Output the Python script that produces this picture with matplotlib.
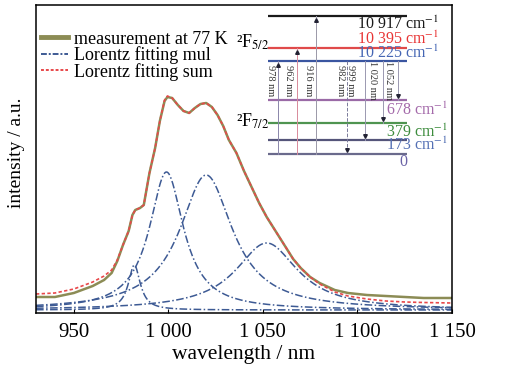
import numpy as np
import matplotlib
matplotlib.use("Agg")
import matplotlib.pyplot as plt
from matplotlib.lines import Line2D

plt.rcParams["font.family"] = ["Liberation Serif", "DejaVu Serif"]
plt.rcParams["mathtext.fontset"] = "stix"

# measured emission spectrum at 77 K (arbitrary units)
wl_meas = [930, 940, 950, 960, 966, 970, 973, 976, 979, 981, 982.5, 985, 987,
           990, 993, 995.5, 998, 999.5, 1002, 1005, 1008, 1011, 1014, 1017,
           1020, 1023, 1026, 1029, 1032, 1036, 1040, 1044, 1048, 1052, 1057,
           1062, 1066, 1070, 1075, 1080, 1088, 1095, 1105, 1115, 1125, 1135, 1150]
i_meas = [16, 16, 20, 27, 33, 40, 52, 68, 82, 98, 103, 105, 108,
          140, 165, 192, 212, 216, 215, 208, 202, 200, 205, 209,
          210, 206, 198, 187, 173, 160, 142, 126, 110, 96, 81,
          66, 54, 45, 36, 30, 23, 20, 18, 17, 16, 15, 15]
# fitted sum
i_sum = [19, 20, 24, 31, 37, 43, 53, 68, 82, 98, 103, 105, 108,
         140, 165, 192, 213, 217, 215, 208, 202, 200, 205, 209,
         210, 206, 198, 187, 173, 160, 142, 126, 110, 96, 81,
         66, 54, 45, 36, 29, 21, 17, 14, 12, 11, 10.5, 10]

# Lorentz components: centre (nm), amplitude, half width (nm)
lz_center = [982, 999, 1020, 1052]
lz_amp = [45, 138, 135, 67]
lz_hwhm = [3.8, 11, 17, 20]
lz_base = 3

# Yb3+ energy levels (cm-1)
levels = [10917, 10395, 10225, 678, 379, 173, 0]
level_labels = ["10 917 cm$^{-1}$", "10 395 cm$^{-1}$", "10 225 cm$^{-1}$",
                "678 cm$^{-1}$", "379 cm$^{-1}$", "173 cm$^{-1}$", "0"]
trans_labels = ["978 nm", "962 nm", "916 nm", "982 nm", "999 nm",
                "1 020 nm", "1 052 nm"]

xticks = [950, 1000, 1050, 1100, 1150]
xtick_labels = ["950", "1 000", "1 050", "1 100", "1 150"]

C_MEAS = "#8c8c55"
C_SUM = "#e8484a"
C_LZ = "#3d5a94"
LZ_DASH = (5, 1.6, 1, 1.6)

W, H = 530, 367
fig = plt.figure(figsize=(W / 100, H / 100), dpi=100)
ax = fig.add_axes([36 / W, 54 / H, 416 / W, 308 / H])

x = np.linspace(930, 1150, 600)
for c, a, g in zip(lz_center, lz_amp, lz_hwhm):
    ax.plot(x, lz_base + a / (1 + ((x - c) / g) ** 2), color=C_LZ, lw=1.1,
            dashes=LZ_DASH)
ax.plot(wl_meas, i_meas, color=C_MEAS, lw=1.8)
ax.plot(wl_meas, i_sum, color=C_SUM, lw=1.2, dashes=(2, 1.4))

ax.set_xlim(930, 1150)
ax.set_ylim(0, 308)
ax.set_yticks([])
ax.set_xticks(xticks)
ax.set_xticklabels(xtick_labels)
ax.tick_params(axis="x", direction="in", length=3, labelsize=15, pad=7)
for s in ax.spines.values():
    s.set_linewidth(1.1)
ax.set_xlabel("wavelength / nm", fontsize=15.5, labelpad=2)
ax.set_ylabel("intensity / a.u.", fontsize=14)
ax.yaxis.set_label_coords(-0.026, 0.52)

handles = [Line2D([], [], color=C_MEAS, lw=3.5),
           Line2D([], [], color=C_LZ, lw=1.4, dashes=(3, 1, 1, 1)),
           Line2D([], [], color=C_SUM, lw=1.4, dashes=(1.5, 1))]
ax.legend(handles, ["measurement at 77 K", "Lorentz fitting mul",
                    "Lorentz fitting sum"],
          loc="upper left", bbox_to_anchor=(0.005, 0.925), frameon=False,
          fontsize=13, labelspacing=-0.08, handlelength=1.5,
          handletextpad=0.35, borderaxespad=0.15, borderpad=0)

# energy level scheme, drawn in figure pixels
ov = fig.add_axes([0, 0, 1, 1], facecolor="none")
ov.set_xlim(0, W)
ov.set_ylim(H, 0)
ov.axis("off")

lv_y = [16, 48, 61, 100, 123, 140, 154]
lv_col = ["#1a1a1a", "#e04a4a", "#3a55a0", "#9a6aa6", "#4f9450", "#55557a",
          "#6a6a8c"]
lab_col = ["#1a1a1a", "#e83434", "#4566b4", "#a46aaa", "#3d8c3d", "#5470b4",
           "#6a62a6"]
lab_y = [24, 39, 53, 110, 132, 145, 162]
lab_x = [439, 439, 439, 448, 448, 448, 403]
for yy, col, tc, lab, ty, tx in zip(lv_y, lv_col, lab_col, level_labels,
                                    lab_y, lab_x):
    ov.plot([268, 407], [yy, yy], color=col, lw=1.6, solid_capstyle="butt")
    ov.text(tx, ty, lab, color=tc, fontsize=11.5,
            ha="center" if lab == "0" else "right", va="center")

ov.text(236, 42, "²F$_{5/2}$", fontsize=13, ha="left", va="center")
ov.text(236, 121, "²F$_{7/2}$", fontsize=13, ha="left", va="center")

# transitions: x, top level, bottom level, arrow at top?, style, colour
tr_x = [278, 297, 316, 347, 365, 383, 398]
tr_top = [2, 1, 0, 2, 2, 2, 2]
tr_bot = [6, 6, 6, 6, 5, 4, 3]
tr_up = [True, True, True, False, False, False, False]
tr_col = ["#8a86aa", "#d88a9a", "#9a98a8", "#7a7a9a", "#9a98b0", "#9a98b0",
          "#9a98b0"]
tr_ls = ["-", "-", "-", "--", "-", "-", "-"]
for xx, t, b, up, col, ls in zip(tr_x, tr_top, tr_bot, tr_up, tr_col, tr_ls):
    ov.plot([xx, xx], [lv_y[t], lv_y[b]], color=col, lw=0.7, ls=ls)
    if up:
        ov.plot(xx, lv_y[t] + 4, marker="^", ms=2.6, color="#222233")
    else:
        ov.plot(xx, lv_y[b] - 4, marker="v", ms=2.6, color="#222233")

lab_tx = [271, 289, 309, 340, 351, 372, 389]
for tx, lab in zip(lab_tx, trans_labels):
    top = 61 if lab.startswith("1 ") else 65
    ov.text(tx, top, lab, fontsize=7.5, rotation=-90, ha="center", va="top",
            color="#333333")

fig.savefig("out.png", dpi=100)
